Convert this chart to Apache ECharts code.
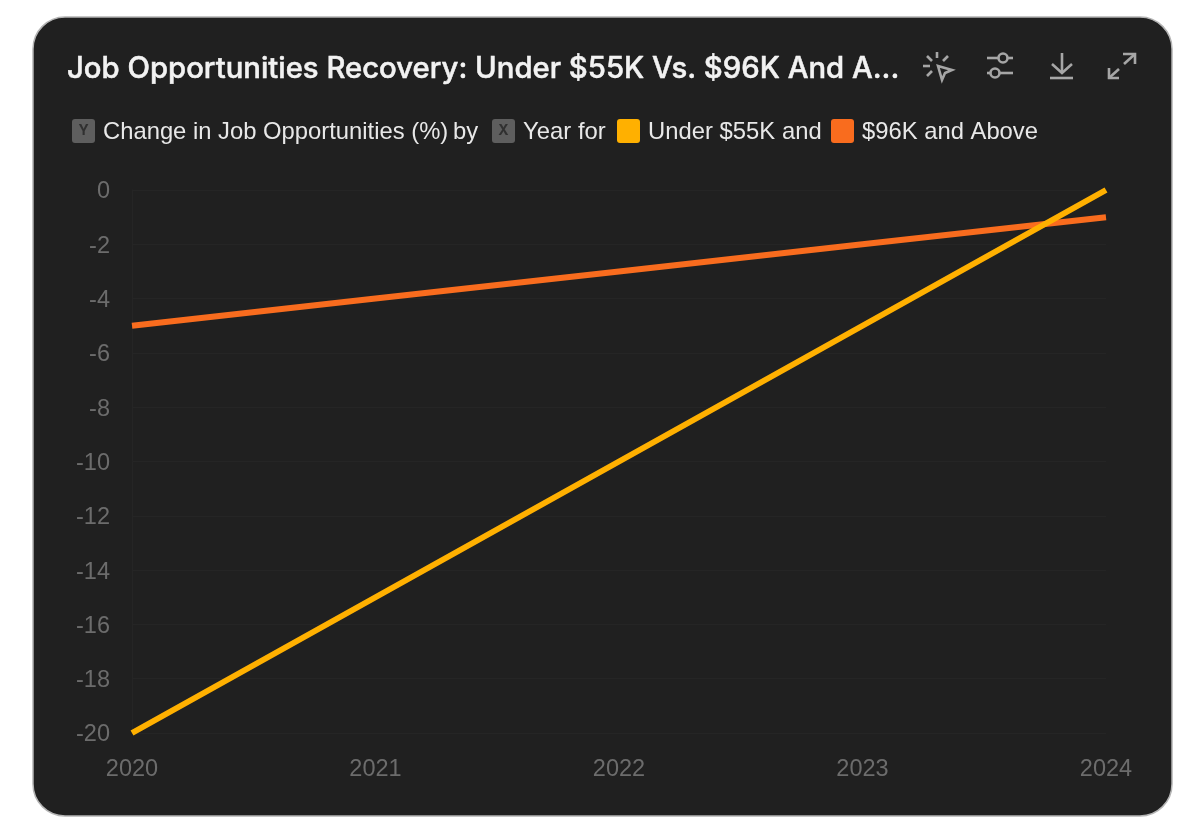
<!DOCTYPE html>
<html>
<head>
<meta charset="utf-8">
<style>html,body{margin:0;padding:0;background:#fff}#c{width:1200px;height:831px}</style>
<script src="https://cdn.jsdelivr.net/npm/echarts@6/dist/echarts.min.js"></script>
</head>
<body>
<div id="c"></div>
<script>
const titleText = 'Job Opportunities Recovery: Under $55K Vs. $96K And A...';
const years = ['2020', '2021', '2022', '2023', '2024'];
const under55k = [-20, -15, -10, -5, 0];
const above96k = [-5, -4, -3, -2, -1];
const seriesNames = ['Under $55K', '$96K and Above'];
const seriesColors = ['#FFB000', '#F96C1E'];

const font = 'Inter, "Liberation Sans", sans-serif';
const axisFont = '"Liberation Sans", sans-serif';
const iconStroke = { stroke: '#a6a6a6', lineWidth: 2.6, fill: null, lineCap: 'butt', lineJoin: 'miter' };

function txt(x, s) {
  return { type: 'text', x: x, y: 132, z: 5, style: { text: s, fontFamily: axisFont, fontSize: 23.8, fill: '#e8e8e8', verticalAlign: 'middle' } };
}
function chip(x, color, letter) {
  const els = [{ type: 'rect', z: 5, shape: { x: x, y: 119, width: 23, height: 24, r: 3 }, style: { fill: color } }];
  if (letter) els.push({ type: 'text', z: 6, x: x + 11.5, y: 131, style: { text: letter, fontFamily: font, fontSize: 14, fontWeight: 700, fill: '#303030', align: 'center', verticalAlign: 'middle' } });
  return els;
}
function pl(pts, closed) {
  return { type: closed ? 'polygon' : 'polyline', z: 5, shape: { points: pts }, style: iconStroke };
}
function knob(cx, cy) {
  return { type: 'circle', z: 6, shape: { cx: cx, cy: cy, r: 4.5 }, style: { fill: '#202020', stroke: '#a6a6a6', lineWidth: 2.6 } };
}

const chart = echarts.init(document.getElementById('c'), null, { renderer: 'canvas' });
chart.setOption({
  animation: false,
  backgroundColor: '#ffffff',
  title: {
    text: titleText, left: 67, top: 55, padding: 0,
    textStyle: { color: '#f2f2f2', fontFamily: font, fontSize: 29.3, fontWeight: 500, textBorderColor: '#f2f2f2', textBorderWidth: 0.5 }
  },
  grid: { left: 132, right: 94, top: 190, bottom: 98 },
  xAxis: {
    type: 'category', data: years, boundaryGap: false,
    axisLine: { show: false }, axisTick: { show: false },
    axisLabel: { color: '#6c6c6c', fontFamily: axisFont, fontSize: 23.5, margin: 25, hideOverlap: false, showMinLabel: true, showMaxLabel: true },
    splitLine: { show: false }
  },
  yAxis: {
    type: 'value', min: -20, max: 0, interval: 2,
    axisLine: { show: true, lineStyle: { color: '#252525', width: 1 } }, axisTick: { show: false },
    axisLabel: { color: '#6c6c6c', fontFamily: axisFont, fontSize: 23.5, margin: 22, verticalAlign: 'top', lineHeight: 4 },
    splitLine: { show: true, lineStyle: { color: '#252525', width: 1 } }
  },
  series: [
    { name: seriesNames[0], type: 'line', data: under55k, showSymbol: false, z: 3, lineStyle: { color: seriesColors[0], width: 6, cap: 'butt' }, itemStyle: { color: seriesColors[0] } },
    { name: seriesNames[1], type: 'line', data: above96k, showSymbol: false, z: 2, lineStyle: { color: seriesColors[1], width: 6, cap: 'butt' }, itemStyle: { color: seriesColors[1] } }
  ],
  graphic: { elements: [
    { type: 'rect', z: -10, silent: true, shape: { x: 33, y: 17, width: 1139, height: 799, r: 32 }, style: { fill: '#202020', stroke: '#b4b4b4', lineWidth: 1.5 } },
    ...chip(72, '#5e5e5e', 'Y'),
    txt(103, 'Change in Job Opportunities (%)'),
    txt(453, 'by'),
    ...chip(492, '#5e5e5e', 'X'),
    txt(523, 'Year'),
    txt(578, 'for'),
    ...chip(617, seriesColors[0]),
    txt(648, seriesNames[0]),
    txt(782, 'and'),
    ...chip(831, seriesColors[1]),
    txt(862, seriesNames[1]),
    pl([[937, 52], [937, 58]]), pl([[927, 56], [932, 61]]), pl([[923, 66], [930, 66]]), pl([[948, 56], [943, 61]]), pl([[927, 76], [932, 71]]),
    pl([[938, 66], [952, 70], [945, 73], [942, 80]], true),
    pl([[987, 58], [1013, 58]]), pl([[987, 73], [1013, 73]]),
    knob(1003, 58), knob(995, 73),
    pl([[1062, 53], [1062, 72]]), pl([[1052, 64], [1062, 73], [1072, 64]]), pl([[1050, 78], [1073, 78]]),
    pl([[1124, 64], [1135, 54]]), pl([[1123, 54], [1135, 54], [1135, 64]]), pl([[1109, 78], [1119, 69]]), pl([[1109, 68], [1109, 78], [1119, 78]])
  ] }
});
</script>
</body>
</html>
